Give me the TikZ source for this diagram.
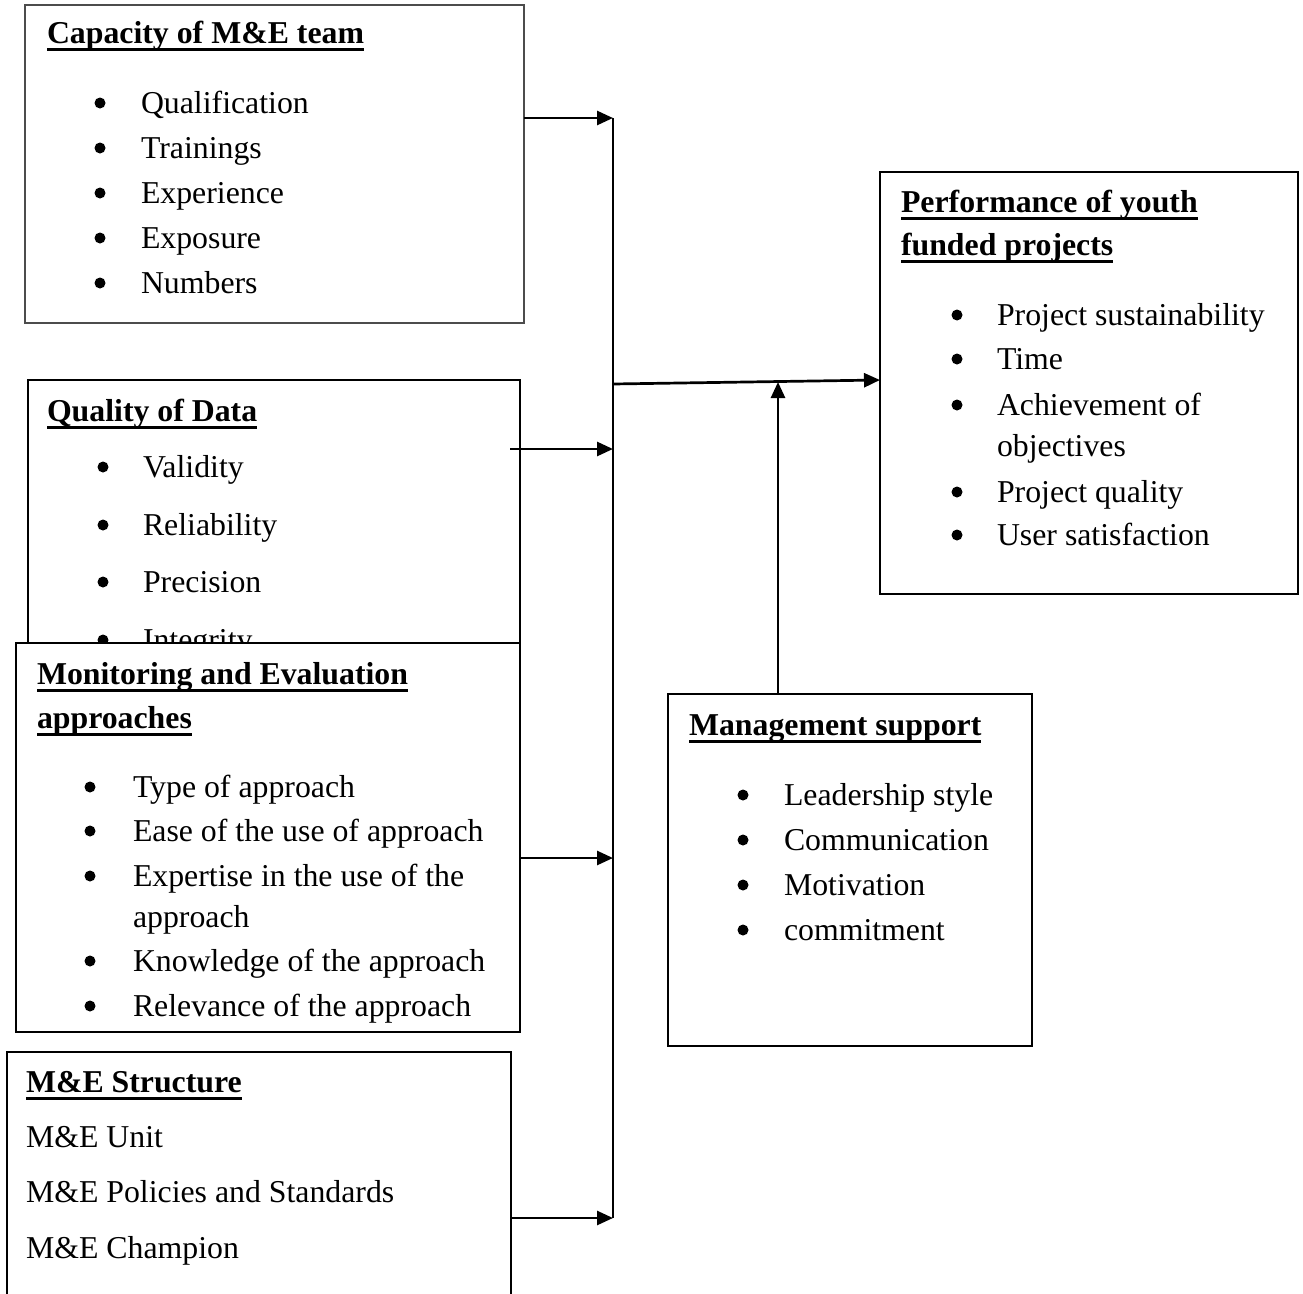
\documentclass[tikz,border=0pt]{standalone}
\usepackage{fontspec}
\setmainfont{Liberation Serif}
\usetikzlibrary{arrows.meta}
\newcommand{\ulb}[1]{\setbox0\hbox{\bfseries #1}\rlap{\rule[-7.5pt]{\wd0}{3pt}}\box0}
\begin{document}
\begin{tikzpicture}[x=1pt,y=-1pt,
  txt/.style={anchor=base west, inner sep=0pt, outer sep=0pt, font=\fontsize{31.8pt}{38pt}\selectfont},
  boxf/.style={draw, line width=2pt, fill=white, anchor=north west, inner sep=0pt, outer sep=0pt},
  conn/.style={line width=2.7pt},
  arr/.style={conn, -{Triangle[length=16pt,width=14pt]}}]
\useasboundingbox (0,0) rectangle (1303,1293);
\clip (0,0) rectangle (1303,1293);

% Box A: Capacity of M&E team
\node[boxf, draw=black!70, line width=1.5pt, minimum width=499pt, minimum height=318pt] (capA) at (25,5) {};
\node[txt] (capAt) at (47,43) {\ulb{Capacity of M\&E team}};
\foreach \t/\y [count=\i] in {Qualification/113, Trainings/158, Experience/203, Exposure/248, Numbers/293} {
  \fill (100,\y-10) circle (5.5pt);
  \node[txt] (a\i) at (141,\y) {\t};
}

% Box B: Quality of Data
\node[boxf, minimum width=492pt, minimum height=320pt] (qual) at (28,380) {};
\node[txt] (qualt) at (47,421) {\ulb{Quality of Data}};
\foreach \t/\y [count=\i] in {Validity/477, Reliability/535, Precision/592, Integrity/650} {
  \fill (103,\y-10) circle (5.5pt);
  \node[txt] (b\i) at (143,\y) {\t};
}

% Box C: Monitoring and Evaluation approaches
\node[boxf, minimum width=504pt, minimum height=389pt] (appr) at (16,643) {};
\node[txt] (apprt1) at (37,684) {\ulb{Monitoring and Evaluation}};
\node[txt] (apprt2) at (37,728) {\ulb{approaches}};
\foreach \t/\y [count=\i] in {Type of approach/797, Ease of the use of approach/841, Expertise in the use of the/886, Knowledge of the approach/971, Relevance of the approach/1016} {
  \fill (90,\y-10) circle (5.5pt);
  \node[txt] (c\i) at (133,\y) {\t};
}
\node[txt] (c6) at (133,927) {approach};

% Box E: M&E Structure
\node[boxf, minimum width=504pt, minimum height=280pt] (struc) at (7,1052) {};
\node[txt] (struct) at (26,1092) {\ulb{M\&E Structure}};
\node[txt] (e1) at (26,1147) {M\&E Unit};
\node[txt] (e2) at (26,1202) {M\&E Policies and Standards};
\node[txt] (e3) at (26,1258) {M\&E Champion};

% Box D: Performance
\node[boxf, minimum width=418pt, minimum height=422pt] (perf) at (880,172) {};
\node[txt] (perft1) at (901,212) {\ulb{Performance of youth}};
\node[txt] (perft2) at (901,255) {\ulb{funded projects}};
\foreach \t/\y [count=\i] in {Project sustainability/325, Time/369, Achievement of/415, Project quality/502, User satisfaction/545} {
  \fill (957,\y-10) circle (5.5pt);
  \node[txt] (d\i) at (997,\y) {\t};
}
\node[txt] (d6) at (997,456) {objectives};

% Box F: Management support
\node[boxf, minimum width=364pt, minimum height=352pt] (mgmt) at (668,694) {};
\node[txt] (mgmtt) at (689,735) {\ulb{Management support}};
\foreach \t/\y [count=\i] in {Leadership style/805, Communication/850, Motivation/895, commitment/940} {
  \fill (743,\y-10) circle (5.5pt);
  \node[txt] (f\i) at (784,\y) {\t};
}

% connectors
\coordinate (jA) at (613,118);
\coordinate (jB) at (613,449);
\coordinate (jC) at (613,858);
\coordinate (jE) at (613,1218);
\coordinate (jD) at (613,384);
\coordinate (pIn) at (880,380);
\coordinate (mUp) at (778,382);
\coordinate (bStart) at (510,449);

\draw[conn] (jA) -- (jE);
\draw[arr] (capA.east |- jA) -- (jA);
\draw[arr] (bStart) -- (jB);
\draw[arr] (appr.east |- jC) -- (jC);
\draw[arr] (struc.east |- jE) -- (jE);
\draw[arr] (jD) -- (pIn);
\draw[arr] (mgmt.north -| mUp) -- (mUp);
\end{tikzpicture}
\end{document}
